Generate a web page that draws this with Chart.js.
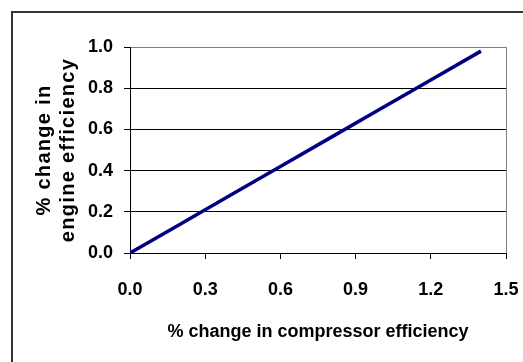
<!DOCTYPE html>
<html>
<head>
<meta charset="utf-8">
<script src="https://cdn.jsdelivr.net/npm/chart.js@4.4.0/dist/chart.umd.min.js"></script>
<style>
    html, body { margin: 0; padding: 0; background: #ffffff; }
    #wrap { width: 523px; height: 362px; position: relative; }
</style>
</head>
<body>
<div id="wrap"><canvas id="effChart"></canvas></div>
<script>
// data
const compressorChange = [0, 0.2, 0.4, 0.6, 0.8, 1.0, 1.2, 1.4];
const engineChange = [0, 0.14, 0.28, 0.42, 0.56, 0.70, 0.84, 0.98];
const xTicks = [0, 0.3, 0.6, 0.9, 1.2, 1.5];
const yTicks = [0, 0.2, 0.4, 0.6, 0.8, 1.0];

const FONT = "'Liberation Sans', Arial, sans-serif";

// outer frame (only top and left edge show in the reference)
const framePlugin = {
    id: 'frame',
    beforeDraw(chart) {
        const ctx = chart.ctx;
        ctx.save();
        ctx.fillStyle = '#ffffff';
        ctx.fillRect(0, 0, chart.width, chart.height);
        ctx.strokeStyle = '#333333';
        ctx.lineWidth = 2;
        ctx.beginPath();
        ctx.moveTo(12, chart.height);
        ctx.lineTo(12, 12);
        ctx.lineTo(chart.width, 12);
        ctx.stroke();
        ctx.restore();
    }
};

// spread out the letters of the y title a bit
const yTitleSpacing = {
    id: 'yTitleSpacing',
    beforeDraw(chart) {
        const s = chart.scales.y;
        if (s && !s._spaced) {
            const orig = s.drawTitle;
            s.drawTitle = function () {
                const ctx = this.ctx;
                ctx.save();
                ctx.letterSpacing = '1.3px';
                orig.apply(this, arguments);
                ctx.restore();
            };
            s._spaced = true;
        }
    }
};

const ctx = document.getElementById('effChart').getContext('2d');
new Chart(ctx, {
    type: 'line',
    data: {
        datasets: [{
            label: 'efficiency',
            data: compressorChange.map((x, i) => ({ x: x, y: engineChange[i] })),
            borderColor: '#000080',
            borderWidth: 3.5,
            pointRadius: 0,
            tension: 0,
            fill: false
        }]
    },
    options: {
        responsive: true,
        maintainAspectRatio: false,
        animation: false,
        layout: { padding: { left: 0, right: 17, top: 47, bottom: 0 } },
        plugins: {
            legend: { display: false },
            tooltip: { enabled: false }
        },
        scales: {
            x: {
                type: 'linear',
                min: 0,
                max: 1.5,
                afterBuildTicks: scale => { scale.ticks = xTicks.map(v => ({ value: v })); },
                afterFit: scale => {
                    scale.height = 109;
                    scale.paddingRight = 0;
                },
                ticks: {
                    color: '#000000',
                    font: { family: FONT, size: 18, weight: 'bold' },
                    padding: 20,
                    maxRotation: 0,
                    callback: v => v.toFixed(1)
                },
                grid: {
                    color: c => (c.tick && c.tick.value === 1.5) ? '#808080' : 'rgba(0,0,0,0)',
                    tickColor: '#000000',
                    tickLength: 6,
                    lineWidth: 1
                },
                border: { color: '#000000', width: 1 },
                title: {
                    display: true,
                    text: '% change in compressor efficiency',
                    color: '#000000',
                    font: { family: FONT, size: 18, weight: 'bold' },
                    padding: { top: 0, bottom: 19 }
                }
            },
            y: {
                min: 0,
                max: 1.0,
                afterBuildTicks: scale => { scale.ticks = yTicks.map(v => ({ value: v })); },
                afterFit: scale => { scale.width = 130; },
                ticks: {
                    color: '#000000',
                    font: { family: FONT, size: 18, weight: 'bold' },
                    padding: 11,
                    callback: v => v.toFixed(1)
                },
                grid: {
                    color: c => (c.tick && c.tick.value === 1.0) ? '#808080' : '#000000',
                    tickColor: '#000000',
                    tickLength: 6,
                    lineWidth: 1
                },
                border: { color: '#000000', width: 1 },
                title: {
                    display: true,
                    text: ['% change in', 'engine efficiency'],
                    color: '#000000',
                    font: { family: FONT, size: 20, weight: 'bold', lineHeight: 1.2 },
                    padding: { top: 32, bottom: 0 }
                }
            }
        }
    },
    plugins: [framePlugin, yTitleSpacing]
});
</script>
</body>
</html>
